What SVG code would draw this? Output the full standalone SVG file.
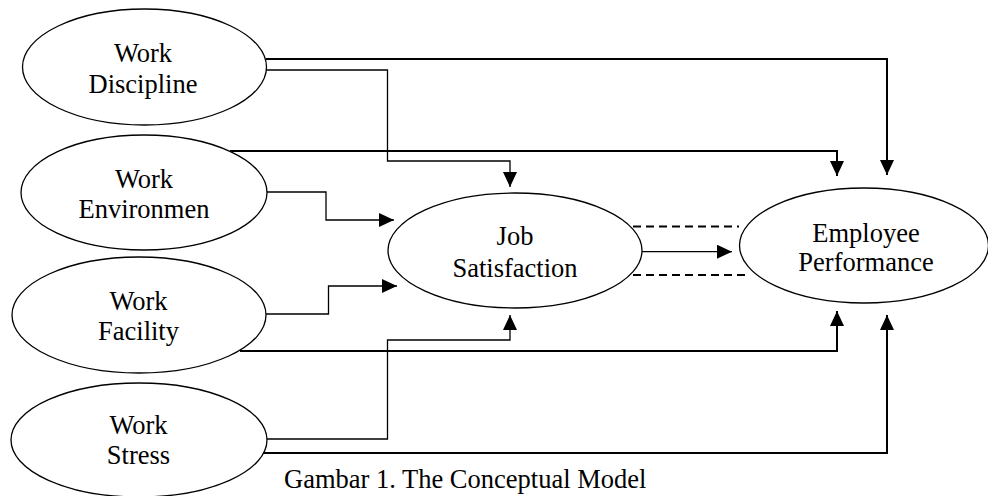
<svg xmlns="http://www.w3.org/2000/svg" width="988" height="496" viewBox="0 0 988 496">
  <style>
    .node ellipse { fill: #fff; stroke: #000; stroke-width: 1.3; }
    text { font-family: "Liberation Serif", "Times New Roman", serif; font-size: 26.5px; fill: #000; text-anchor: middle; }
    .thick { fill: none; stroke: #000; stroke-width: 2; }
    .thin { fill: none; stroke: #000; stroke-width: 1.3; }
    .dash { fill: none; stroke: #000; stroke-width: 2; stroke-dasharray: 8 5; }
  </style>
  <defs>
    <marker id="arr" markerUnits="userSpaceOnUse" markerWidth="16" markerHeight="14" refX="15" refY="7" orient="auto">
      <path d="M0,0 L15,7 L0,14 Z" fill="#000"/>
    </marker>
  </defs>
  <rect width="988" height="496" fill="#fff"/>

  <g id="connectors">
    <path class="thick" d="M266,59 H887 V175" marker-end="url(#arr)"/>
    <path class="thin" d="M266,70 H387.5 V161 H510 V187" marker-end="url(#arr)"/>
    <path class="thick" d="M230,151 H837 V176" marker-end="url(#arr)"/>
    <path class="thin" d="M267,192 H326 V220 H394" marker-end="url(#arr)"/>
    <path class="thin" d="M266,314 H328.5 V286 H397" marker-end="url(#arr)"/>
    <path class="thick" d="M240,351 H837 V311" marker-end="url(#arr)"/>
    <path class="thin" d="M267,439 H387.5 V340 H510 V315" marker-end="url(#arr)"/>
    <path class="thick" d="M263,453 H887 V315" marker-end="url(#arr)"/>
    <path class="thin" d="M642,251.7 H732" marker-end="url(#arr)"/>
    <path class="dash" d="M633,226.5 H739"/>
    <path class="dash" d="M633,275 H747"/>
  </g>

  <g id="work-discipline" class="node">
    <ellipse cx="144.5" cy="67" rx="122" ry="58"/>
    <text x="143" y="62">Work</text>
    <text x="143" y="93">Discipline</text>
  </g>
  <g id="work-environmen" class="node">
    <ellipse cx="144" cy="192.5" rx="123" ry="57.5"/>
    <text x="144" y="188">Work</text>
    <text x="144" y="218">Environmen</text>
  </g>
  <g id="work-facility" class="node">
    <ellipse cx="139" cy="315" rx="127" ry="58"/>
    <text x="138.5" y="310">Work</text>
    <text x="138.5" y="340">Facility</text>
  </g>
  <g id="work-stress" class="node">
    <ellipse cx="139" cy="440" rx="128" ry="57"/>
    <text x="138.5" y="434">Work</text>
    <text x="138.5" y="464">Stress</text>
  </g>
  <g id="job-satisfaction" class="node">
    <ellipse cx="515" cy="250.5" rx="127" ry="57.5"/>
    <text x="515" y="245">Job</text>
    <text x="515" y="276.5">Satisfaction</text>
  </g>
  <g id="employee-performance" class="node">
    <ellipse cx="864" cy="245.5" rx="124.5" ry="57.5"/>
    <text x="866" y="241.5">Employee</text>
    <text x="866" y="270.5">Performance</text>
  </g>

  <text x="284" y="488" style="text-anchor:start">Gambar 1. The Conceptual Model</text>
</svg>
